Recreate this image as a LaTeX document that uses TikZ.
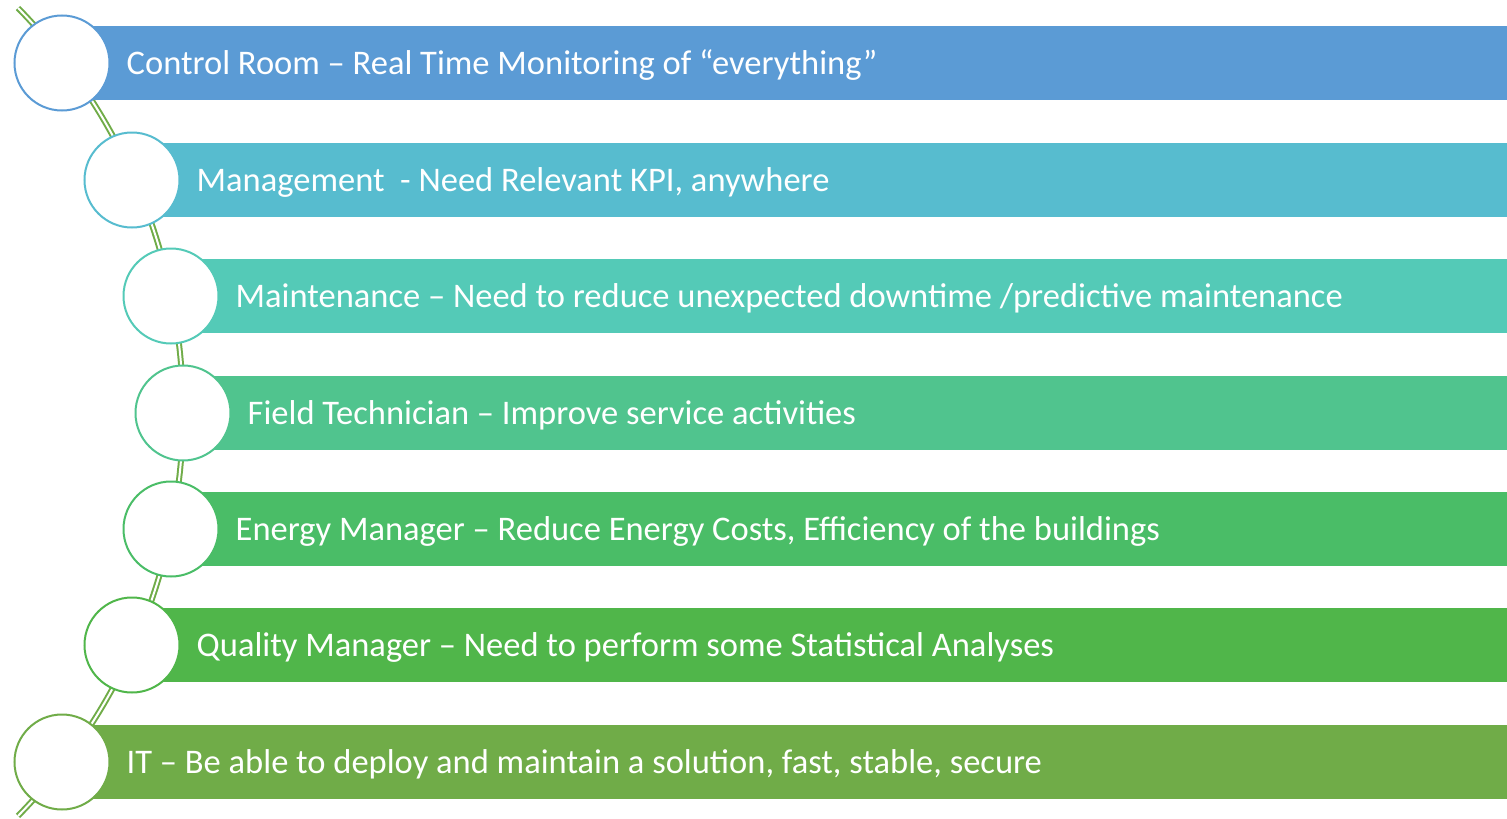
\documentclass[tikz,border=0pt]{standalone}
\usepackage{fontspec}
\setmainfont{Carlito}
\definecolor{cRoom}{RGB}{91,155,213}
\definecolor{cMgmt}{RGB}{87,188,207}
\definecolor{cMaint}{RGB}{84,202,183}
\definecolor{cField}{RGB}{80,196,142}
\definecolor{cEnergy}{RGB}{74,189,103}
\definecolor{cQual}{RGB}{80,182,74}
\definecolor{cIT}{RGB}{112,172,72}

\begin{document}
\begin{tikzpicture}[x=1pt,y=-1pt,
    bar/.style={draw=none,minimum height=74pt,inner sep=0pt,anchor=west},
    ring/.style={circle,draw=#1,fill=white,line width=2pt,minimum size=95pt,inner sep=0pt},
    caption/.style={anchor=west,inner sep=0pt,yshift=-2pt,text=white,font={\fontsize{34.5}{38}\selectfont}}]

\useasboundingbox (0,0) rectangle (1507,819);

% the spine
\coordinate (top) at (18,8);
\coordinate (bot) at (18,816);
\draw[cIT,line width=2pt,double=white,double distance=2pt] (top) arc(-44.44:44.44:577);

\node[bar,fill=cRoom,minimum width=1445pt] (b1) at (62,63) {};
\node[bar,fill=cMgmt,minimum width=1375pt] (b2) at (132,180) {};
\node[bar,fill=cMaint,minimum width=1336pt] (b3) at (171,296) {};
\node[bar,fill=cField,minimum width=1324pt] (b4) at (183,413) {};
\node[bar,fill=cEnergy,minimum width=1336pt] (b5) at (171,529) {};
\node[bar,fill=cQual,minimum width=1375pt] (b6) at (132,645) {};
\node[bar,fill=cIT,minimum width=1445pt] (b7) at (62,762) {};

\node[ring=cRoom] (c1) at (62,63) {};
\node[ring=cMgmt] (c2) at (132,180) {};
\node[ring=cMaint] (c3) at (171,296) {};
\node[ring=cField] (c4) at (183,413) {};
\node[ring=cEnergy] (c5) at (171,529) {};
\node[ring=cQual] (c6) at (132,645) {};
\node[ring=cIT] (c7) at (62,762) {};

\node[caption] (t1) at ([xshift=16pt]c1.east) {Control Room – Real Time Monitoring of “everything”};
\node[caption] (t2) at ([xshift=16pt]c2.east) {Management\ \ - Need Relevant KPI, anywhere};
\node[caption] (t3) at ([xshift=16pt]c3.east) {Maintenance – Need to reduce unexpected downtime /predictive maintenance};
\node[caption] (t4) at ([xshift=16pt]c4.east) {Field Technician – Improve service activities};
\node[caption] (t5) at ([xshift=16pt]c5.east) {Energy Manager – Reduce Energy Costs, Efficiency of the buildings};
\node[caption] (t6) at ([xshift=16pt]c6.east) {Quality Manager – Need to perform some Statistical Analyses};
\node[caption] (t7) at ([xshift=16pt]c7.east) {IT – Be able to deploy and maintain a solution, fast, stable, secure};

\end{tikzpicture}
\end{document}
